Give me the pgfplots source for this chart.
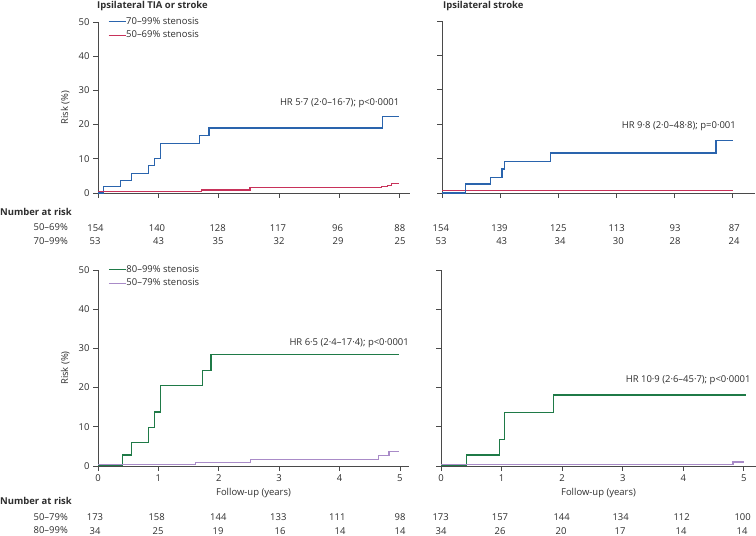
\documentclass[border=0pt]{standalone}
\usepackage{fontspec}
\setmainfont{Open Sans}
\usepackage{pgfplots}
\pgfplotsset{compat=1.18}
\definecolor{cblue}{HTML}{2A64AD}
\definecolor{cred}{HTML}{C8325A}
\definecolor{cgreen}{HTML}{1F7A47}
\definecolor{cpurple}{HTML}{A98BC8}
\definecolor{axgray}{HTML}{4A4A4A}
\definecolor{txt}{HTML}{2E2E2E}
\newcommand{\fs}{\fontsize{9.5}{11}\selectfont}
\pgfplotsset{
  km/.style={
    scale only axis, anchor=south west,
    axis x line=bottom, axis y line=left,
    axis line style={-, draw=axgray, line width=0.9bp},
    tick align=outside, major tick length=5bp,
    tick style={draw=axgray, line width=0.9bp},
    xmin=0, ymin=0, ymax=50,
    xtick={0,1,2,3,4,5}, ytick={0,10,20,30,40,50},
    tick label style={font=\fs, text=txt},
    label style={font=\fs, text=txt},
    /pgf/number format/assume math mode=true,
    clip=false,
    legend cell align=left,
    legend style={draw=none, fill=none, inner sep=0pt, row sep=5bp,
      nodes={inner sep=0pt, text height=7bp, text depth=1.5bp, text=txt}},
    legend image code/.code={\draw[##1, line width=1bp] (0bp,0bp) -- (17bp,0bp);},
    every even column/.append style={column sep=3bp},
  },
  curve/.style={const plot, line width=1.2bp, mark=none},
}
\begin{document}
\begin{tikzpicture}
\path[use as bounding box] (0,0) rectangle (756bp,536bp);

% Top-left
\begin{axis}[km, at={(98bp,343bp)}, width=312bp, height=171bp, xmax=5.17,
  xticklabels={}, ylabel={Risk (\%)},
  ylabel style={at={(axis description cs:-0.105,0.5)}, anchor=center},
  legend style={at={(axis description cs:0.032,1.028)}, anchor=north west}]
\addplot[curve, cblue] coordinates {(0,0) (0.09,1.8) (0.375,3.7) (0.56,5.7) (0.84,8.1) (0.93,10.0) (1.03,14.5) (1.68,16.8) (1.84,19.0) (4.71,22.4) (4.98,22.4)};
\addlegendentry{\fs 70–99\% stenosis}
\addplot[curve, cred] coordinates {(0,0.5) (1.72,0.9) (2.52,1.7) (4.70,1.9) (4.80,2.2) (4.86,2.7) (4.98,2.7)};
\addlegendentry{\fs 50–69\% stenosis}
\end{axis}

% Top-right
\begin{axis}[km, at={(442bp,343bp)}, width=313bp, height=172bp, xmax=5.38,
  xticklabels={}, yticklabels={}]
\addplot[curve, cred] coordinates {(0,0.7) (5.0,0.7)};
\addplot[curve, cblue] coordinates {(0,0) (0.41,2.6) (0.84,4.6) (1.03,7.0) (1.07,9.2) (1.86,11.6) (4.71,15.3) (5.0,15.3)};
\end{axis}

% Bottom-left
\begin{axis}[km, at={(98bp,70bp)}, width=311bp, height=196bp, xmax=5.15,
  ylabel={Risk (\%)}, xlabel={Follow-up (years)},
  ylabel style={at={(axis description cs:-0.105,0.5)}, anchor=center},
  xlabel style={at={(axis description cs:0.5,-0.138)}, anchor=mid},
  legend style={at={(axis description cs:0.033,1.025)}, anchor=north west}]
\addplot[curve, cgreen] coordinates {(0,0.2) (0.40,2.8) (0.55,6.0) (0.84,9.8) (0.93,13.8) (1.04,20.6) (1.73,24.4) (1.87,28.4) (4.98,28.4)};
\addlegendentry{\fs 80–99\% stenosis}
\addplot[curve, cpurple] coordinates {(0,0.3) (1.61,0.8) (2.52,1.6) (4.64,2.7) (4.82,3.8) (4.98,3.8)};
\addlegendentry{\fs 50–79\% stenosis}
\end{axis}

% Bottom-right
\begin{axis}[km, at={(441bp,70bp)}, width=315bp, height=196bp, xmax=5.2,
  yticklabels={}, xlabel={Follow-up (years)},
  xlabel style={at={(axis description cs:0.5,-0.138)}, anchor=mid}]
\addplot[curve, cgreen] coordinates {(0,0.2) (0.42,2.8) (0.96,6.7) (1.05,13.7) (1.86,18.1) (5.04,18.1)};
\addplot[curve, cpurple, line width=1.6bp] coordinates {(0,0.4) (4.82,1.0) (5.0,1.0)};
\end{axis}

\begin{scope}[x=1bp, y=1bp, every node/.style={font=\fs, text=txt, inner sep=0pt}]
% titles
\node[anchor=mid west, font=\fs\bfseries] at (97,530.5) {Ipsilateral TIA or stroke};
\node[anchor=mid west, font=\fs\bfseries] at (443,530.5) {Ipsilateral stroke};
% HR annotations
\node[anchor=mid east] at (399.5,433) {HR 5·7 (2·0–16·7); p<0·0001};
\node[anchor=mid east] at (736,410) {HR 9·8 (2·0–48·8); p=0·001};
\node[anchor=mid east] at (409,193.3) {HR 6·5 (2·4–17·4); p<0·0001};
\node[anchor=mid east] at (750.7,156) {HR 10·9 (2·6–45·7); p<0·0001};
% number at risk top
\node[anchor=mid west, font=\fs\bfseries] at (0,323) {Number at risk};
\node[anchor=mid east] at (68,308) {50–69\%};
\node[anchor=mid east] at (68,294.5) {70–99\%};
\node at (95.5,308) {154}; \node at (157,308) {140}; \node at (217.7,308) {128};
\node at (278,308) {117}; \node at (337.5,308) {96}; \node at (399.8,308) {88};
\node at (95,294.5) {53}; \node at (158.5,294.5) {43}; \node at (218,294.5) {35};
\node at (279,294.5) {32}; \node at (338,294.5) {29}; \node at (400,294.5) {25};
\node at (440.8,308) {154}; \node at (499.5,308) {139}; \node at (558.3,308) {125};
\node at (616.7,308) {113}; \node at (675,308) {93}; \node at (734.3,308) {87};
\node at (441,294.5) {53}; \node at (501.7,294.5) {43}; \node at (560,294.5) {34};
\node at (618.3,294.5) {30}; \node at (675,294.5) {28}; \node at (734,294.5) {24};
% number at risk bottom
\node[anchor=mid west, font=\fs\bfseries] at (0,34) {Number at risk};
\node[anchor=mid east] at (68,18.5) {50–79\%};
\node[anchor=mid east] at (68,5) {80–99\%};
\node at (95,18.5) {173}; \node at (156.7,18.5) {158}; \node at (218.3,18.5) {144};
\node at (278.3,18.5) {133}; \node at (337.3,18.5) {111}; \node at (400,18.5) {98};
\node at (95,5) {34}; \node at (158,5) {25}; \node at (218,5) {19};
\node at (280,5) {16}; \node at (340,5) {14}; \node at (400,5) {14};
\node at (440.7,18.5) {173}; \node at (500,18.5) {157}; \node at (561.7,18.5) {144};
\node at (620.7,18.5) {134}; \node at (681.7,18.5) {112}; \node at (742.7,18.5) {100};
\node at (441,5) {34}; \node at (500,5) {26}; \node at (561,5) {20};
\node at (620,5) {17}; \node at (681,5) {14}; \node at (742,5) {14};
\end{scope}
\end{tikzpicture}
\end{document}
